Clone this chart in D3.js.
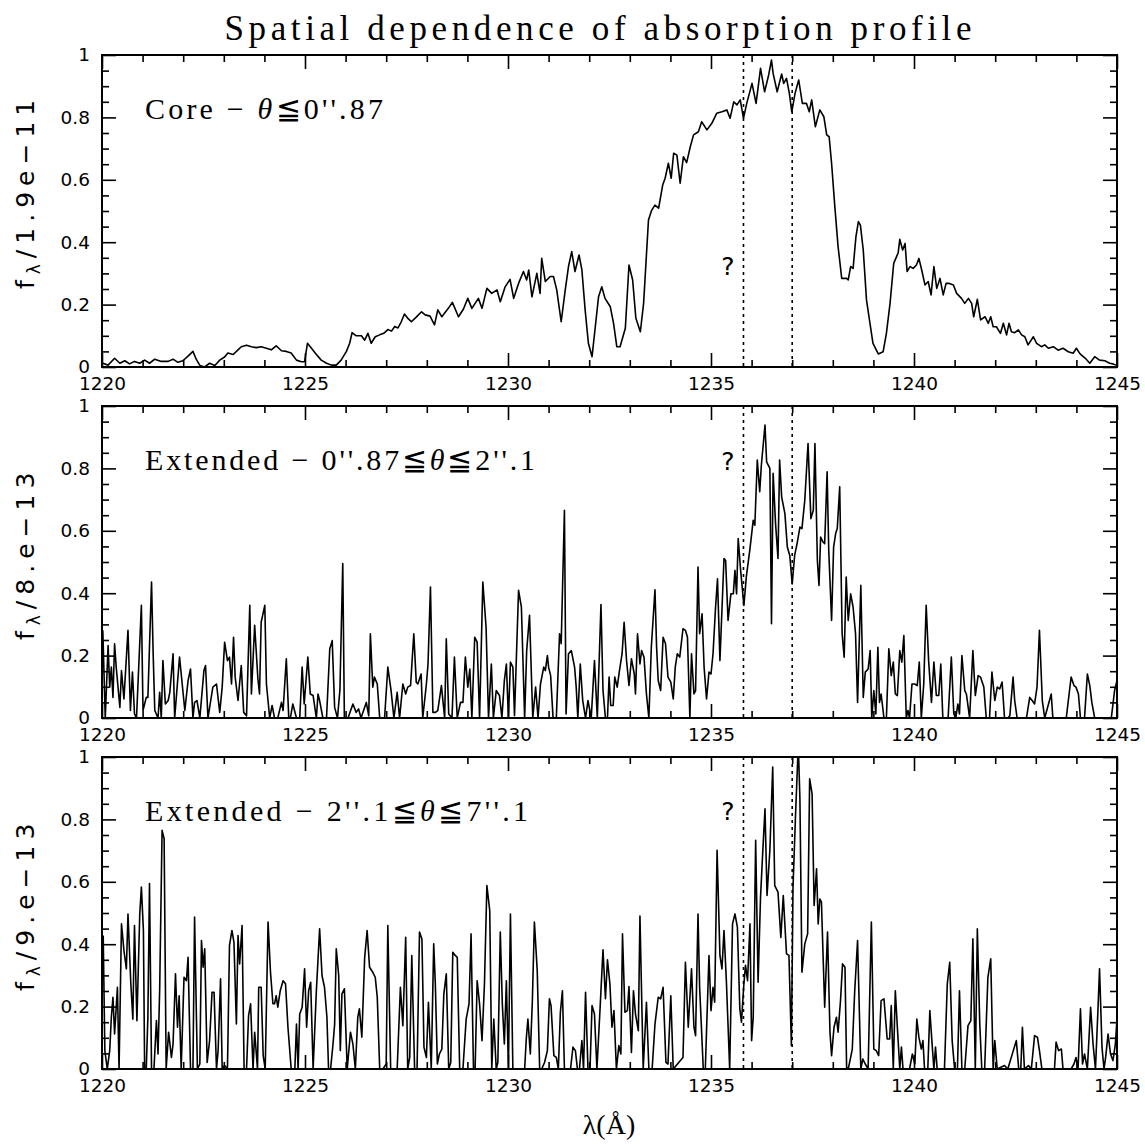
<!DOCTYPE html>
<html>
<head>
<meta charset="utf-8">
<script src="https://cdn.jsdelivr.net/npm/d3@7"></script>
<style>
  body { margin: 0; background: #fff; }
</style>
</head>
<body>
<svg id="chart" width="1145" height="1144"></svg>
<script>
// axis ticks
const xMajorTicks = [1220, 1225, 1230, 1235, 1240, 1245];
const xMinorTicks = [1221, 1222, 1223, 1224, 1226, 1227, 1228, 1229, 1231, 1232, 1233, 1234,
                     1236, 1237, 1238, 1239, 1241, 1242, 1243, 1244];
const yMajorTicks = [0, 0.2, 0.4, 0.6, 0.8, 1];
const yMinorTicks = [0.05, 0.1, 0.15, 0.25, 0.3, 0.35, 0.45, 0.5, 0.55, 0.65, 0.7, 0.75, 0.85, 0.9, 0.95];

// dotted marker wavelengths
const markerLines = [1235.8, 1237.0];

// panel texts: before theta, after theta
const panelLabels = [
  ['Core \u2212 ', '\u22660\'\'.87'],
  ['Extended \u2212 0\'\'.87\u2266', '\u22662\'\'.1'],
  ['Extended \u2212 2\'\'.1\u2266', '\u22667\'\'.1']
];
const panelLabelWidths = [238, 390, 383];
const panelScales = ['1.9e\u221211', '8.e\u221213', '9.e\u221213'];

// spectra, [wavelength (A), normalised flux]
const coreSpec = [
  [1220.02,0.012],[1220.15,0.006],[1220.31,0.028],[1220.44,0.012],[1220.56,0.02],[1220.68,0.01],[1220.80,0.018],
  [1220.93,0.012],[1221.05,0.022],[1221.17,0.012],[1221.30,0.025],[1221.46,0.018],[1221.63,0.018],[1221.75,0.025],
  [1221.87,0.015],[1221.99,0.02],[1222.12,0.035],[1222.24,0.05],[1222.32,0.025],[1222.41,0.005],[1222.53,0.0],
  [1222.65,0.012],[1222.78,0.005],[1222.90,0.022],[1223.02,0.032],[1223.10,0.045],[1223.23,0.04],[1223.35,0.055],
  [1223.43,0.065],[1223.56,0.07],[1223.68,0.065],[1223.80,0.062],[1223.92,0.065],[1224.05,0.06],[1224.17,0.055],
  [1224.29,0.068],[1224.42,0.052],[1224.54,0.05],[1224.66,0.045],[1224.79,0.022],[1224.91,0.017],[1224.99,0.017],
  [1225.06,0.076],[1225.16,0.06],[1225.28,0.04],[1225.40,0.022],[1225.53,0.012],[1225.65,0.006],[1225.77,0.006],
  [1225.89,0.022],[1226.02,0.05],[1226.10,0.076],[1226.16,0.11],[1226.26,0.1],[1226.39,0.1],[1226.47,0.086],
  [1226.55,0.108],[1226.63,0.076],[1226.73,0.097],[1226.84,0.103],[1226.94,0.108],[1227.04,0.12],[1227.13,0.115],
  [1227.21,0.13],[1227.29,0.125],[1227.37,0.145],[1227.45,0.17],[1227.54,0.155],[1227.62,0.145],[1227.74,0.16],
  [1227.87,0.177],[1227.96,0.167],[1228.08,0.163],[1228.19,0.135],[1228.27,0.183],[1228.37,0.161],[1228.53,0.188],
  [1228.63,0.207],[1228.78,0.161],[1228.90,0.185],[1229.01,0.22],[1229.11,0.188],[1229.27,0.22],[1229.36,0.188],
  [1229.48,0.252],[1229.60,0.236],[1229.73,0.247],[1229.81,0.209],[1229.93,0.257],[1230.05,0.281],[1230.14,0.22],
  [1230.26,0.268],[1230.38,0.306],[1230.46,0.279],[1230.51,0.311],[1230.59,0.225],[1230.71,0.3],[1230.79,0.236],
  [1230.83,0.348],[1230.92,0.274],[1231.04,0.29],[1231.12,0.29],[1231.20,0.247],[1231.31,0.145],[1231.41,0.247],
  [1231.49,0.322],[1231.57,0.37],[1231.65,0.306],[1231.75,0.359],[1231.82,0.311],[1231.90,0.183],[1231.98,0.076],
  [1232.07,0.033],[1232.15,0.129],[1232.23,0.225],[1232.31,0.257],[1232.39,0.22],[1232.52,0.193],[1232.60,0.14],
  [1232.68,0.065],[1232.76,0.065],[1232.89,0.124],[1232.98,0.327],[1233.07,0.279],[1233.15,0.156],[1233.26,0.113],
  [1233.34,0.204],[1233.46,0.471],[1233.54,0.503],[1233.62,0.519],[1233.71,0.509],[1233.81,0.583],[1233.87,0.605],
  [1233.95,0.653],[1234.02,0.605],[1234.08,0.685],[1234.16,0.679],[1234.24,0.589],[1234.32,0.674],[1234.40,0.655],
  [1234.49,0.706],[1234.57,0.744],[1234.69,0.754],[1234.77,0.786],[1234.90,0.76],[1235.02,0.781],[1235.14,0.813],
  [1235.27,0.818],[1235.39,0.824],[1235.47,0.797],[1235.56,0.85],[1235.64,0.84],[1235.72,0.856],[1235.80,0.797],
  [1235.88,0.845],[1236.01,0.909],[1236.11,0.845],[1236.22,0.957],[1236.32,0.882],[1236.42,0.936],[1236.49,0.984],
  [1236.53,0.941],[1236.63,0.882],[1236.74,0.939],[1236.79,0.909],[1236.86,0.925],[1236.93,0.877],[1236.99,0.818],
  [1237.07,0.877],[1237.16,0.92],[1237.25,0.845],[1237.35,0.845],[1237.42,0.818],[1237.48,0.856],[1237.57,0.77],
  [1237.68,0.824],[1237.78,0.802],[1237.85,0.744],[1237.91,0.738],[1237.97,0.653],[1238.05,0.514],[1238.13,0.386],
  [1238.22,0.284],[1238.34,0.284],[1238.38,0.279],[1238.44,0.322],[1238.50,0.316],[1238.57,0.418],[1238.63,0.466],
  [1238.68,0.455],[1238.75,0.375],[1238.83,0.215],[1238.91,0.145],[1238.99,0.076],[1239.12,0.042],[1239.24,0.049],
  [1239.32,0.108],[1239.41,0.204],[1239.50,0.332],[1239.61,0.366],[1239.65,0.409],[1239.72,0.375],[1239.78,0.396],
  [1239.83,0.306],[1239.90,0.322],[1239.98,0.316],[1240.06,0.327],[1240.12,0.348],[1240.19,0.311],[1240.27,0.263],
  [1240.35,0.274],[1240.42,0.231],[1240.49,0.322],[1240.56,0.252],[1240.64,0.284],[1240.72,0.231],[1240.79,0.268],
  [1240.87,0.268],[1240.97,0.263],[1241.05,0.236],[1241.17,0.22],[1241.25,0.204],[1241.34,0.22],[1241.42,0.204],
  [1241.47,0.161],[1241.56,0.217],[1241.64,0.151],[1241.75,0.161],[1241.83,0.14],[1241.89,0.161],[1241.95,0.129],
  [1242.03,0.129],[1242.13,0.108],[1242.20,0.14],[1242.28,0.103],[1242.34,0.14],[1242.40,0.113],[1242.48,0.11],
  [1242.57,0.119],[1242.65,0.103],[1242.73,0.097],[1242.81,0.071],[1242.94,0.097],[1243.02,0.076],[1243.14,0.065],
  [1243.22,0.071],[1243.31,0.06],[1243.43,0.065],[1243.55,0.054],[1243.67,0.06],[1243.80,0.049],[1243.92,0.044],
  [1244.00,0.06],[1244.09,0.042],[1244.22,0.028],[1244.33,0.012],[1244.45,0.033],[1244.57,0.022],[1244.70,0.02],
  [1244.82,0.012],[1244.90,0.01],[1244.98,0.006]
];

const ext1Spec = [
  [1220.02,0.281],[1220.08,0],[1220.15,0.232],[1220.19,0.099],[1220.23,0.163],[1220.27,0.066],[1220.31,0.238],
  [1220.35,0.163],[1220.44,0.034],[1220.48,0.152],[1220.54,0.061],[1220.64,0.281],[1220.70,0.024],[1220.75,0.147],
  [1220.80,0.013],[1220.85,0],[1220.97,0.361],[1221.01,0.024],[1221.09,0.066],[1221.13,0.066],[1221.22,0.436],
  [1221.26,0.206],[1221.30,0.024],[1221.38,0],[1221.42,0.082],[1221.46,0],[1221.50,0.184],[1221.56,0.045],
  [1221.63,0.056],[1221.67,0.082],[1221.75,0.206],[1221.79,0],[1221.91,0.195],[1222.04,0.024],[1222.12,0.12],
  [1222.18,0.157],[1222.24,0],[1222.28,0.05],[1222.34,0.056],[1222.41,0],[1222.51,0.152],[1222.55,0.168],
  [1222.61,0],[1222.73,0.099],[1222.82,0.109],[1222.90,0.018],[1222.96,0.099],[1223.02,0.243],[1223.09,0.184],
  [1223.14,0.195],[1223.19,0.109],[1223.24,0.259],[1223.28,0.131],[1223.35,0.056],[1223.43,0.168],[1223.49,0.018],
  [1223.56,0.007],[1223.64,0.361],[1223.68,0.077],[1223.76,0.297],[1223.84,0.125],[1223.88,0.077],[1223.92,0.307],
  [1224.01,0.361],[1224.05,0.109],[1224.13,0],[1224.19,0.04],[1224.25,0],[1224.33,0],[1224.42,0.05],[1224.46,0.024],
  [1224.54,0.19],[1224.60,0],[1224.64,0],[1224.70,0.045],[1224.79,0],[1224.87,0],[1224.93,0.163],[1224.98,0.045],
  [1225.07,0.195],[1225.13,0.077],[1225.20,0.072],[1225.28,0],[1225.32,0.077],[1225.36,0.056],[1225.44,0],
  [1225.53,0],[1225.61,0.222],[1225.67,0.248],[1225.73,0.034],[1225.80,0],[1225.86,0.09],
  [1225.93,0.495],[1225.97,0],[1226.06,0],[1226.18,0.045],[1226.26,0.018],[1226.32,0.029],[1226.38,0],
  [1226.51,0.05],[1226.57,0.007],[1226.61,0.27],[1226.67,0.099],[1226.71,0.131],[1226.78,0.109],[1226.84,0],
  [1226.96,0],[1227.04,0.163],[1227.12,0.088],[1227.19,0],[1227.27,0.082],[1227.33,0],[1227.41,0.109],
  [1227.48,0.077],[1227.53,0.099],[1227.60,0.104],[1227.68,0.27],[1227.74,0.115],[1227.78,0.109],[1227.86,0.141],
  [1227.90,0],[1227.99,0.109],[1228.03,0.173],[1228.09,0.42],[1228.15,0.018],[1228.21,0.018],[1228.27,0.024],
  [1228.36,0.104],[1228.44,0],[1228.48,0.254],[1228.54,0.013],[1228.62,0],[1228.68,0.195],[1228.75,0],
  [1228.83,0.05],[1228.89,0.05],[1228.95,0.195],[1229.01,0.099],[1229.06,0.157],[1229.11,0],[1229.18,0.259],
  [1229.24,0.243],[1229.30,0],[1229.38,0.436],[1229.46,0.291],[1229.52,0],[1229.59,0.173],[1229.64,0],
  [1229.71,0.088],[1229.79,0.072],[1229.85,0],[1229.91,0.12],[1229.96,0.173],[1230.01,0],[1230.06,0.179],
  [1230.12,0.163],[1230.16,0.007],[1230.26,0.409],[1230.33,0.355],[1230.41,0],[1230.46,0.216],[1230.53,0.329],
  [1230.61,0],[1230.68,0.099],[1230.74,0],[1230.80,0.109],[1230.88,0.163],[1230.92,0.152],[1230.97,0.2],
  [1231.00,0.163],[1231.05,0.136],[1231.11,0],[1231.19,0],[1231.27,0.27],[1231.31,0.238],[1231.39,0.666],
  [1231.43,0.013],[1231.49,0.206],[1231.56,0.216],[1231.64,0.163],[1231.68,0.099],[1231.72,0],[1231.78,0.173],
  [1231.84,0.056],[1231.91,0],[1231.97,0.056],[1232.05,0],[1232.13,0.184],[1232.20,0],
  [1232.29,0.364],[1232.34,0.088],[1232.40,0],[1232.45,0],[1232.49,0.131],[1232.53,0.04],[1232.59,0.04],
  [1232.63,0.131],[1232.69,0.099],[1232.74,0.147],[1232.81,0.206],[1232.86,0.307],[1232.92,0.184],[1232.98,0.104],
  [1233.04,0.19],[1233.11,0.141],[1233.14,0.077],[1233.19,0.27],[1233.25,0.173],[1233.29,0.216],[1233.35,0.195],
  [1233.41,0.077],[1233.47,0],[1233.53,0.227],[1233.62,0.411],[1233.66,0.227],[1233.70,0.12],[1233.76,0.088],
  [1233.82,0.259],[1233.88,0.238],[1233.94,0.131],[1234.01,0.115],[1234.07,0.061],[1234.12,0.163],[1234.17,0.206],
  [1234.23,0.195],[1234.31,0.286],[1234.37,0.281],[1234.42,0.259],[1234.48,0],[1234.52,0.206],[1234.58,0.077],
  [1234.62,0.088],[1234.68,0.484],[1234.72,0.27],[1234.78,0.334],[1234.83,0.163],[1234.89,0.061],[1234.95,0.147],
  [1235.00,0.141],[1235.05,0.206],[1235.11,0.35],[1235.16,0.446],[1235.22,0.184],[1235.32,0.511],[1235.36,0.505],
  [1235.42,0.313],[1235.49,0.398],[1235.55,0.398],[1235.59,0.473],[1235.63,0.398],[1235.67,0.575],[1235.73,0.473],
  [1235.81,0.361],[1235.87,0.452],[1235.96,0.543],[1236.04,0.634],[1236.08,0.618],[1236.14,0.827],[1236.20,0.725],
  [1236.24,0.81],[1236.33,0.939],[1236.37,0.821],[1236.45,0.8],[1236.49,0.302],[1236.53,0.784],[1236.59,0.623],
  [1236.65,0.511],[1236.69,0.827],[1236.74,0.709],[1236.82,0.655],[1236.88,0.548],[1236.94,0.521],[1237.00,0.43],
  [1237.06,0.521],[1237.12,0.559],[1237.19,0.612],[1237.24,0.607],[1237.31,0.698],[1237.39,0.88],[1237.46,0.639],
  [1237.52,0.666],[1237.56,0.88],[1237.62,0.505],[1237.66,0.425],[1237.70,0.58],[1237.76,0.564],[1237.80,0.559],
  [1237.86,0.789],[1237.90,0.537],[1237.97,0.313],[1238.02,0.548],[1238.07,0.591],[1238.11,0.607],[1238.17,0.741],
  [1238.23,0.27],[1238.28,0.195],[1238.33,0.452],[1238.38,0.313],[1238.44,0.398],[1238.50,0.355],[1238.56,0.27],
  [1238.61,0.05],[1238.69,0.425],[1238.75,0.066],[1238.80,0.147],[1238.87,0.157],[1238.92,0.216],[1238.96,0],
  [1239.01,0.088],[1239.06,0.013],[1239.11,0.227],[1239.15,0.05],[1239.19,0.077],[1239.26,0],[1239.32,0],
  [1239.38,0.222],[1239.44,0.136],[1239.49,0.179],[1239.54,0.077],[1239.59,0.072],[1239.65,0.216],[1239.70,0.179],
  [1239.75,0.264],[1239.81,0],[1239.85,0.024],[1239.89,0],[1239.95,0.109],[1240.02,0.109],[1240.08,0.104],
  [1240.13,0.179],[1240.18,0],[1240.24,0.109],[1240.30,0.361],[1240.36,0.184],[1240.43,0.05],[1240.49,0.179],
  [1240.55,0.072],[1240.61,0.072],[1240.66,0.173],[1240.71,0],[1240.84,0],[1240.92,0.195],[1240.98,0.013],
  [1241.03,0],[1241.08,0.045],[1241.12,0.013],[1241.18,0.2],[1241.25,0.088],[1241.29,0.077],[1241.37,0],
  [1241.45,0.216],[1241.51,0.072],[1241.58,0.136],[1241.64,0.131],[1241.72,0.099],[1241.78,0],[1241.86,0],
  [1241.92,0.147],[1241.99,0.056],[1242.05,0.099],[1242.11,0.093],[1242.17,0.115],[1242.23,0],[1242.31,0],
  [1242.36,0.007],[1242.44,0.131],[1242.48,0.056],[1242.54,0],[1242.77,0],[1242.85,0.066],[1242.91,0.056],
  [1242.97,0.045],[1243.03,0.099],[1243.09,0.281],[1243.16,0.056],[1243.22,0],[1243.38,0.077],[1243.42,0],
  [1243.75,0],[1243.87,0.131],[1243.94,0.104],[1243.99,0.099],[1244.05,0.077],[1244.10,0],[1244.20,0],
  [1244.27,0.141],[1244.33,0.104],[1244.38,0.05],[1244.45,0],[1244.86,0],[1244.94,0.088],[1245.00,0.12]
];

const ext2Spec = [
  [1220.03,0.428],[1220.07,0.059],[1220.13,0],[1220.19,0.059],[1220.23,0.166],[1220.27,0.23],[1220.31,0.112],
  [1220.38,0.262],[1220.42,0],[1220.48,0.465],[1220.54,0.38],[1220.60,0.321],[1220.64,0.497],[1220.71,0.273],
  [1220.76,0.16],[1220.80,0.46],[1220.86,0.155],[1220.93,0.497],[1220.97,0.583],[1221.02,0.444],[1221.05,0],
  [1221.09,0],[1221.13,0.166],[1221.17,0.594],[1221.22,0],[1221.28,0],[1221.34,0.155],[1221.38,0.048],
  [1221.42,0.251],[1221.48,0.765],[1221.53,0.738],[1221.58,0],[1221.64,0.118],[1221.71,0.037],[1221.75,0.08],
  [1221.81,0.305],[1221.86,0.134],[1221.90,0.235],[1221.95,0],[1222.02,0.294],[1222.08,0.283],[1222.12,0.358],
  [1222.18,0],[1222.24,0],[1222.28,0.487],[1222.35,0],[1222.41,0.016],[1222.45,0.412],[1222.49,0.326],
  [1222.53,0.385],[1222.59,0.021],[1222.65,0.091],[1222.71,0.246],[1222.76,0.246],[1222.82,0],[1222.86,0.059],
  [1222.92,0.289],[1222.96,0],[1223.02,0.011],[1223.09,0],[1223.14,0.396],[1223.20,0.444],[1223.25,0.406],
  [1223.31,0.144],[1223.35,0.428],[1223.39,0.337],[1223.45,0.46],[1223.50,0],[1223.56,0],[1223.61,0.171],
  [1223.66,0.209],[1223.72,0],[1223.76,0.118],[1223.83,0],[1223.86,0.262],[1223.92,0.262],[1223.97,0.043],
  [1224.02,0],[1224.09,0.471],[1224.15,0.31],[1224.21,0.209],[1224.25,0.209],[1224.29,0.235],[1224.33,0.198],
  [1224.39,0.251],[1224.46,0.283],[1224.52,0.273],[1224.58,0.134],[1224.66,0],[1224.75,0],[1224.79,0.144],
  [1224.83,0],[1224.87,0.176],[1224.93,0.198],[1224.99,0.321],[1225.04,0.134],[1225.09,0.251],[1225.14,0.278],
  [1225.20,0],[1225.28,0.251],[1225.36,0.449],[1225.42,0.299],[1225.48,0.262],[1225.54,0.166],[1225.58,0],
  [1225.63,0],[1225.69,0.08],[1225.73,0.144],[1225.77,0.385],[1225.83,0.3],[1225.87,0.059],[1225.91,0.241],
  [1225.97,0.257],[1226.04,0],[1226.12,0.118],[1226.18,0.08],[1226.24,0],[1226.30,0.166],[1226.34,0.193],
  [1226.40,0.102],[1226.47,0.358],[1226.53,0.444],[1226.59,0.326],[1226.67,0.31],[1226.73,0.294],[1226.78,0.23],
  [1226.84,0],[1226.92,0],[1227.00,0.016],[1227.04,0.46],[1227.11,0],[1227.27,0],[1227.35,0.262],[1227.41,0.139],
  [1227.48,0.422],[1227.53,0],[1227.58,0.037],[1227.63,0.364],[1227.70,0],[1227.76,0],[1227.82,0.439],
  [1227.88,0.417],[1227.93,0.07],[1227.99,0.037],[1228.04,0.214],[1228.11,0],[1228.17,0.401],[1228.21,0.273],
  [1228.26,0.016],[1228.31,0.048],[1228.37,0.064],[1228.42,0.241],[1228.48,0.305],[1228.54,0],[1228.59,0.021],
  [1228.64,0.374],[1228.70,0.364],[1228.75,0.358],[1228.81,0],[1228.89,0],[1228.97,0.16],[1229.04,0.209],
  [1229.09,0.433],[1229.15,0],[1229.19,0],[1229.24,0.283],[1229.30,0.209],[1229.36,0.091],[1229.42,0.273],
  [1229.48,0.588],[1229.55,0.508],[1229.60,0],[1229.65,0.16],[1229.71,0],[1229.75,0.021],[1229.81,0.439],
  [1229.86,0.209],[1229.91,0.08],[1229.96,0.283],[1230.01,0],[1230.06,0.497],[1230.12,0],[1230.41,0],
  [1230.45,0.096],[1230.49,0.16],[1230.55,0.048],[1230.60,0.219],[1230.65,0.471],[1230.72,0.316],[1230.78,0],
  [1230.83,0],[1230.90,0.021],[1230.97,0.059],[1231.02,0.225],[1231.06,0.203],[1231.13,0.043],[1231.19,0.037],
  [1231.24,0],[1231.29,0.182],[1231.34,0.251],[1231.39,0],[1231.54,0],[1231.60,0.07],[1231.66,0.059],
  [1231.71,0],[1231.76,0],[1231.82,0.091],[1231.86,0],[1231.91,0.246],[1231.97,0],[1232.02,0],[1232.07,0.203],
  [1232.13,0.176],[1232.19,0],[1232.27,0.2],[1232.34,0.382],[1232.40,0.225],[1232.45,0.35],[1232.51,0.273],
  [1232.56,0.134],[1232.61,0.187],[1232.67,0],[1232.73,0.075],[1232.78,0.048],[1232.82,0.433],[1232.88,0.182],
  [1232.94,0.187],[1232.98,0.264],[1233.04,0.053],[1233.09,0.251],[1233.14,0.176],[1233.21,0.123],[1233.25,0.49],
  [1233.33,0],[1233.41,0.214],[1233.47,0],[1233.55,0],[1233.62,0.144],[1233.70,0.23],[1233.76,0.225],
  [1233.82,0.262],[1233.89,0.021],[1233.94,0.016],[1234.01,0.235],[1234.07,0],[1234.31,0.037],[1234.37,0.342],
  [1234.44,0.134],[1234.52,0.321],[1234.58,0.134],[1234.62,0.107],[1234.68,0.497],[1234.72,0.262],[1234.81,0],
  [1234.86,0],[1234.95,0.364],[1235.00,0.187],[1235.05,0.262],[1235.09,0.214],[1235.15,0.701],[1235.22,0.364],
  [1235.27,0.321],[1235.32,0.444],[1235.38,0.278],[1235.46,0],[1235.53,0.465],[1235.59,0.497],[1235.65,0.455],
  [1235.71,0.193],[1235.75,0.15],[1235.81,0.273],[1235.85,0.332],[1235.90,0.283],[1235.96,0.465],[1236.00,0.091],
  [1236.04,0.166],[1236.10,0.733],[1236.16,0.278],[1236.22,0.551],[1236.27,0.684],[1236.33,0.834],[1236.38,0.556],
  [1236.45,0.701],[1236.52,0.968],[1236.57,0.588],[1236.65,0.567],[1236.72,0.422],[1236.78,0.556],[1236.86,0.369],
  [1236.92,0.364],[1236.98,0.075],[1237.02,0.583],[1237.08,0.807],[1237.15,1.04],[1237.19,0.866],[1237.24,0.31],
  [1237.31,0.401],[1237.38,0.433],[1237.43,0.93],[1237.49,0.882],[1237.54,0.524],[1237.60,0.642],[1237.64,0.465],
  [1237.68,0.545],[1237.72,0.535],[1237.80,0.198],[1237.87,0.439],[1237.93,0.118],[1237.97,0.043],[1238.03,0.134],
  [1238.09,0.166],[1238.13,0.118],[1238.19,0.219],[1238.24,0.337],[1238.30,0.326],[1238.34,0.005],[1238.38,0],
  [1238.44,0.037],[1238.48,0.064],[1238.54,0.251],[1238.61,0.412],[1238.69,0],[1238.74,0.032],[1238.80,0.016],
  [1238.87,0],[1238.95,0.471],[1239.01,0.064],[1239.07,0.059],[1239.13,0.043],[1239.19,0.219],[1239.26,0.225],
  [1239.34,0.096],[1239.40,0.096],[1239.44,0.203],[1239.49,0],[1239.54,0.251],[1239.59,0.134],[1239.65,0],
  [1239.69,0.07],[1239.73,0],[1239.89,0],[1239.96,0.048],[1240.02,0.016],[1240.07,0.16],[1240.12,0.102],
  [1240.18,0.064],[1240.22,0.091],[1240.26,0],[1240.34,0],[1240.39,0.187],[1240.44,0.091],[1240.49,0],
  [1240.53,0.07],[1240.57,0],[1240.75,0],[1240.82,0.273],[1240.88,0.342],[1240.94,0.091],[1241.00,0],
  [1241.07,0],[1241.12,0.251],[1241.18,0],[1241.25,0],[1241.33,0.139],[1241.40,0.155],[1241.45,0.417],
  [1241.51,0],[1241.56,0.449],[1241.62,0.144],[1241.67,0],[1241.74,0],[1241.82,0.294],[1241.89,0.353],
  [1241.95,0],[1241.99,0.091],[1242.05,0],[1242.23,0.011],[1242.31,0],[1242.52,0.091],[1242.58,0],[1242.63,0],
  [1242.67,0.134],[1242.72,0],[1242.82,0.011],[1242.89,0],[1242.97,0.107],[1243.04,0.102],[1243.09,0.059],
  [1243.15,0],[1243.46,0],[1243.50,0.086],[1243.56,0.059],[1243.63,0.064],[1243.67,0],[1243.87,0],
  [1243.94,0.016],[1243.99,0.037],[1244.04,0],[1244.10,0.193],[1244.15,0.016],[1244.20,0.048],[1244.27,0],
  [1244.35,0.198],[1244.41,0.08],[1244.47,0],[1244.53,0.187],[1244.57,0.321],[1244.63,0.07],[1244.68,0],
  [1244.72,0.037],[1244.78,0.112],[1244.84,0.048],[1244.90,0.027],[1244.96,0.08],[1245.00,0.16]
];

const spectra = [coreSpec, ext1Spec, ext2Spec];

// layout
const width = 1145, height = 1144;
const left = 102, right = 1117, panelH = 312;
const panelTops = [55, 406, 757];
const questionY = [220, 64, 63];
const serif = '"Liberation Serif", "DejaVu Serif", serif';
const sans = '"DejaVu Sans", "Liberation Sans", sans-serif';

const svg = d3.select('#chart');
svg.append('rect').attr('width', width).attr('height', height).attr('fill', '#fff');

const x = d3.scaleLinear().domain([1220, 1245]).range([left, right]);

function styleAxis(g) {
  g.select('.domain').remove();
  g.selectAll('line').attr('stroke', '#000').attr('stroke-width', 1.6);
  g.selectAll('text')
    .attr('fill', '#000')
    .attr('font-family', sans)
    .attr('font-size', 18.5);
}

spectra.forEach((spec, i) => {
  const top = panelTops[i];
  const bottom = top + panelH;
  const y = d3.scaleLinear().domain([0, 1]).range([bottom, top]);
  const g = svg.append('g');

  svg.append('clipPath').attr('id', 'clip' + i)
    .append('rect').attr('x', left).attr('y', top).attr('width', right - left).attr('height', panelH);

  // bottom axis with labels, top axis without
  g.append('g').attr('transform', `translate(0,${bottom})`)
    .call(d3.axisBottom(x).tickValues(xMajorTicks).tickSizeInner(-14).tickSizeOuter(0).tickPadding(10).tickFormat(d3.format('d')))
    .call(styleAxis);
  g.append('g').attr('transform', `translate(0,${bottom})`)
    .call(d3.axisBottom(x).tickValues(xMinorTicks).tickSizeInner(-7).tickSizeOuter(0).tickFormat(''))
    .call(styleAxis);
  g.append('g').attr('transform', `translate(0,${top})`)
    .call(d3.axisTop(x).tickValues(xMajorTicks).tickSizeInner(-14).tickSizeOuter(0).tickFormat(''))
    .call(styleAxis);
  g.append('g').attr('transform', `translate(0,${top})`)
    .call(d3.axisTop(x).tickValues(xMinorTicks).tickSizeInner(-7).tickSizeOuter(0).tickFormat(''))
    .call(styleAxis);

  // left axis with labels, right axis without
  g.append('g').attr('transform', `translate(${left},0)`)
    .call(d3.axisLeft(y).tickValues(yMajorTicks).tickSizeInner(-14).tickSizeOuter(0).tickPadding(12).tickFormat(d3.format('')))
    .call(styleAxis);
  g.append('g').attr('transform', `translate(${left},0)`)
    .call(d3.axisLeft(y).tickValues(yMinorTicks).tickSizeInner(-7).tickSizeOuter(0).tickFormat(''))
    .call(styleAxis);
  g.append('g').attr('transform', `translate(${right},0)`)
    .call(d3.axisRight(y).tickValues(yMajorTicks).tickSizeInner(-14).tickSizeOuter(0).tickFormat(''))
    .call(styleAxis);
  g.append('g').attr('transform', `translate(${right},0)`)
    .call(d3.axisRight(y).tickValues(yMinorTicks).tickSizeInner(-7).tickSizeOuter(0).tickFormat(''))
    .call(styleAxis);

  // dotted marker lines
  g.selectAll('.marker').data(markerLines).enter().append('line')
    .attr('x1', d => x(d)).attr('x2', d => x(d))
    .attr('y1', top).attr('y2', bottom)
    .attr('stroke', '#000').attr('stroke-width', 1.6)
    .attr('stroke-dasharray', '3,4');

  // spectrum
  const line = d3.line().x(d => x(d[0])).y(d => y(d[1]));
  g.append('path').datum(spec)
    .attr('d', line)
    .attr('fill', 'none')
    .attr('stroke', '#000')
    .attr('stroke-width', 1.6)
    .attr('stroke-linejoin', 'round')
    .attr('clip-path', `url(#clip${i})`);

  // frame
  g.append('rect').attr('x', left).attr('y', top).attr('width', right - left).attr('height', panelH)
    .attr('fill', 'none').attr('stroke', '#000').attr('stroke-width', 2);

  // panel label
  const lab = panelLabels[i];
  const t = g.append('text')
    .attr('x', 145).attr('y', top + 64)
    .attr('font-family', serif)
    .attr('font-size', 30)
    .attr('textLength', panelLabelWidths[i])
    .attr('lengthAdjust', 'spacing')
    .attr('fill', '#000');
  t.append('tspan').text(lab[0]);
  t.append('tspan').attr('font-style', 'italic').text('\u03b8');
  t.append('tspan').text(lab[1]);

  // question mark
  g.append('text')
    .attr('x', 728).attr('y', top + questionY[i])
    .attr('text-anchor', 'middle')
    .attr('font-family', sans)
    .attr('font-size', 25)
    .attr('fill', '#000')
    .text('?');

  // y label, reads upward from near the panel's lower part
  const yl = g.append('text')
    .attr('transform', `translate(34,${top + 234}) rotate(-90)`)
    .attr('font-family', sans)
    .attr('font-size', 25)
    .attr('letter-spacing', 6)
    .attr('fill', '#000');
  yl.append('tspan').text('f');
  yl.append('tspan').attr('font-size', 17).attr('dy', 6).text('\u03bb');
  yl.append('tspan').attr('dy', -6).text('/' + panelScales[i]);
});

// title
svg.append('text')
  .attr('x', 598).attr('y', 40)
  .attr('text-anchor', 'middle')
  .attr('font-family', serif)
  .attr('font-size', 35)
  .attr('textLength', 747)
  .attr('lengthAdjust', 'spacing')
  .attr('fill', '#000')
  .text('Spatial dependence of absorption profile');

// x axis title
svg.append('text')
  .attr('x', 609).attr('y', 1134)
  .attr('text-anchor', 'middle')
  .attr('font-family', serif)
  .attr('font-size', 28)
  .attr('fill', '#000')
  .text('\u03bb(\u00c5)');
</script>
</body>
</html>
